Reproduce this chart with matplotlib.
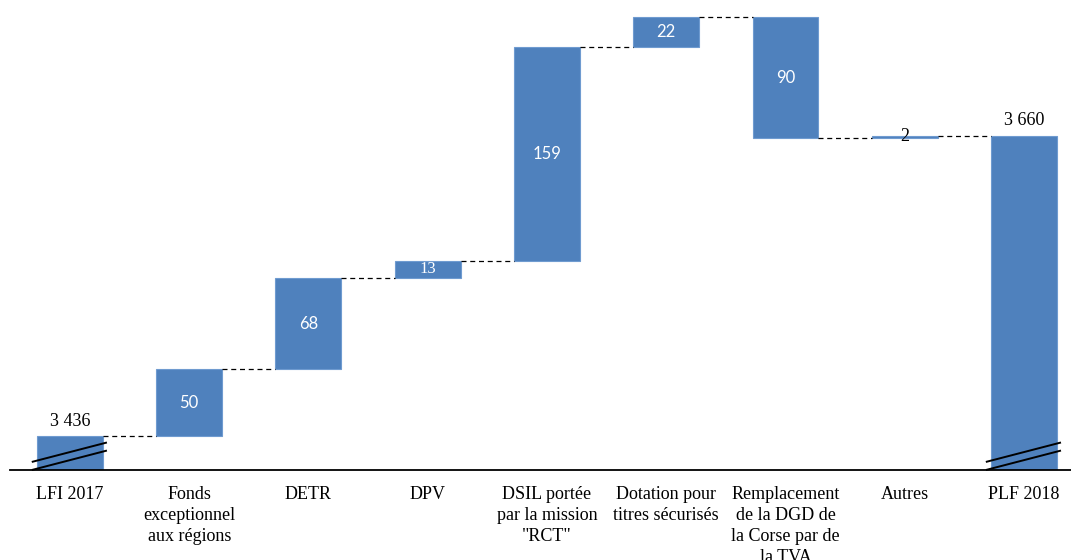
import matplotlib
matplotlib.use("Agg")
import matplotlib.pyplot as plt
import numpy as np

categories = ["LFI 2017", "Fonds\nexceptionnel\naux régions", "DETR", "DPV",
              "DSIL portée\npar la mission\n\"RCT\"", "Dotation pour\ntitres sécurisés",
              "Remplacement\nde la DGD de\nla Corse par de\nla TVA", "Autres", "PLF 2018"]
start_value = 3436
changes = [50, 68, 13, 159, 22, -90, 2]
end_value = 3660
change_labels = ["50", "68", "13", "159", "22", "90", "2"]
total_labels = ["3 436", "3 660"]

y_min, y_max = 3411, 3761
blue = "#4F81BD"
serif = ["Liberation Serif", "DejaVu Serif"]
sans = ["Lato", "DejaVu Sans"]

fig = plt.figure(figsize=(10.71, 5.6), dpi=100)
ax = fig.add_axes([0.0093, 0.1607, 0.9907, 0.8393])
n = len(categories)
x = np.arange(n)
w = 0.553

levels = [start_value]
for c in changes:
    levels.append(levels[-1] + c)

ax.bar(x[0], start_value - y_min, bottom=y_min, width=w, color=blue, edgecolor="#6F9BD0", linewidth=0.8)
ax.bar(x[-1], end_value - y_min, bottom=y_min, width=w, color=blue, edgecolor="#6F9BD0", linewidth=0.8)
for i, c in enumerate(changes):
    lo = min(levels[i], levels[i + 1])
    h = abs(c)
    ax.bar(x[i + 1], h, bottom=lo, width=w, color=blue, edgecolor="#6F9BD0", linewidth=0.8)
    if h > 5:
        fam = serif if c == 13 else sans
        ax.text(x[i + 1], lo + h / 2, change_labels[i], ha="center", va="center",
                color="white", fontsize=12, family=fam)
    else:
        ax.text(x[i + 1], lo + h / 2, change_labels[i], ha="center", va="center",
                color="black", fontsize=13, family=serif)

# connectors
for i in range(n - 1):
    ax.plot([x[i] + w / 2, x[i + 1] - w / 2], [levels[i]] * 2,
            color="black", linestyle=(0, (4, 3)), linewidth=0.9)

# total labels
ax.text(x[0], start_value + 5, total_labels[0], ha="center", va="bottom", fontsize=13, family=serif)
ax.text(x[-1], end_value + 5, total_labels[1], ha="center", va="bottom", fontsize=13, family=serif)

# break marks
for xi in (x[0], x[-1]):
    for off in (0, 6):
        ax.plot([xi - 0.32, xi + 0.31], [y_min + off, y_min + off + 14.5],
                color="black", linewidth=1.4, clip_on=False, solid_capstyle="butt")

ax.set_xlim(-0.503, 8.394)
ax.set_ylim(y_min, y_max)
for s in ("top", "right", "left"):
    ax.spines[s].set_visible(False)
ax.spines["bottom"].set_linewidth(1.3)
ax.set_yticks([])
ax.set_xticks(x)
ax.set_xticklabels(categories, fontsize=13, family=serif, linespacing=1.32)
ax.tick_params(axis="x", length=0, pad=11.5)

fig.savefig("out.png", dpi=100)
